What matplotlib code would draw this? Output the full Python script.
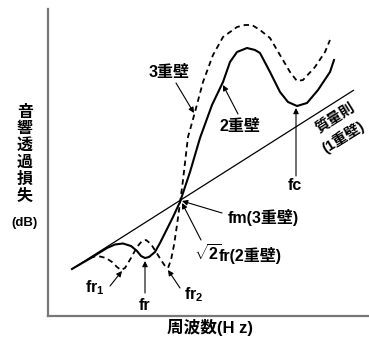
import numpy as np
import matplotlib
matplotlib.use("Agg")
import matplotlib.pyplot as plt

plt.rcParams['font.family'] = ['Liberation Sans', 'Noto Sans CJK JP', 'DejaVu Sans']
plt.rcParams['font.weight'] = 'bold'
plt.rcParams['mathtext.fontset'] = 'custom'
plt.rcParams['mathtext.rm'] = 'Liberation Sans:bold'
plt.rcParams['mathtext.it'] = 'Liberation Sans:bold'
plt.rcParams['mathtext.bf'] = 'Liberation Sans:bold'

# 質量則 (1重壁) の直線
mass_x = [24, 306]
mass_y = [47, 226]

# 2重壁 (実線)
wall2_x = [24, 42, 59, 67, 75, 83, 89, 93, 97, 101, 107, 112, 117, 125, 132, 137, 142,
           152, 164, 175, 182, 189, 199, 207, 212, 222, 232, 240, 249, 259, 270, 282, 286]
wall2_y = [47, 57.5, 68, 71.5, 72.5, 70, 65, 60, 58, 59, 64, 73, 83, 99, 114, 129, 144,
           178, 211, 234, 254, 264, 268, 266, 263, 244, 224, 214, 210, 213, 226, 244, 256]

# 3重壁 (破線)
wall3_x = [42, 47, 52, 58, 64, 69, 73, 77, 83, 89, 94, 98, 103, 108, 113, 117, 120, 123,
           126, 129, 132, 135, 140, 147, 155, 165, 175, 189, 197, 204, 212, 222, 232, 242,
           249, 255, 267, 277, 282]
wall3_y = [58, 59.5, 59.5, 58, 54, 49, 46, 48, 58, 69, 75, 76, 72, 64, 56, 50, 48, 56,
           71, 91, 113, 136, 179, 204, 234, 261, 279, 289, 291, 291, 286, 278, 261, 244,
           235, 236, 249, 264, 276]

fig = plt.figure(figsize=(3.69, 3.38), dpi=100)
ax = fig.add_axes([48 / 369, 22 / 338, 321 / 369, 307 / 338])
ax.set_xlim(0, 321)
ax.set_ylim(0, 307)
ax.set_xticks([])
ax.set_yticks([])
for s in ['top', 'right']:
    ax.spines[s].set_visible(False)
for s in ['left', 'bottom']:
    ax.spines[s].set_color('#777777')
    ax.spines[s].set_linewidth(1.6)

ax.plot(mass_x, mass_y, color='black', lw=0.9, solid_capstyle='butt')
ax.plot(wall2_x, wall2_y, color='black', lw=1.5, solid_joinstyle='round')
ax.plot(wall3_x, wall3_y, color='black', lw=1.3, linestyle=(0, (3, 2.2)))

arr = dict(arrowstyle='-|>', color='black', lw=0.8, mutation_scale=8, shrinkA=0, shrinkB=0)
fs = 11.5


def label(txt, xy_text, xy_arrow=None, arrow_from=None, **kw):
    if xy_arrow is not None:
        ax.annotate('', xy=xy_arrow, xytext=arrow_from, arrowprops=arr)
    ax.text(*xy_text, txt, ha=kw.pop('ha', 'center'), va='center',
            fontsize=kw.pop('fontsize', fs), fontweight='bold', **kw)


label('3重壁', (121, 244), (146, 203), (128, 233))
label('2重壁', (192, 189), (175, 231), (190, 202))
label('fc', (247, 131), (248, 208), (248, 140))
label('fm(3重壁)', (215, 98), (134, 115), (174, 103))
label(r'$\sqrt{2}$', (174, 62), (134, 113), (153, 76), ha='right')
label('fr(2重壁)', (171, 61), ha='left')
label(r'fr$_1$', (47, 28), (74, 45), (62, 30))
label('fr', (97, 11), (97, 55), (97, 23))
label(r'fr$_2$', (146, 21), (120, 46), (132, 28))
label('質量則', (287, 198), rotation=32, fontsize=10.5)
label('(1重壁)', (295, 179), rotation=32, fontsize=10.5)

ylab = ['音', '響', '透', '過', '損', '失']
for i, ch in enumerate(ylab):
    fig.text(25 / 369, 1 - (112 + 16.8 * i) / 338, ch, ha='center', va='center',
             fontsize=11.5, fontweight='bold')
fig.text(24 / 369, 1 - 223 / 338, '(dB)', ha='center', va='center', fontsize=9.5,
         fontweight='bold')
fig.text(210 / 369, 1 - 327 / 338, '周波数(H z)', ha='center', va='center', fontsize=12,
         fontweight='bold')

fig.savefig('out.png', dpi=100)
